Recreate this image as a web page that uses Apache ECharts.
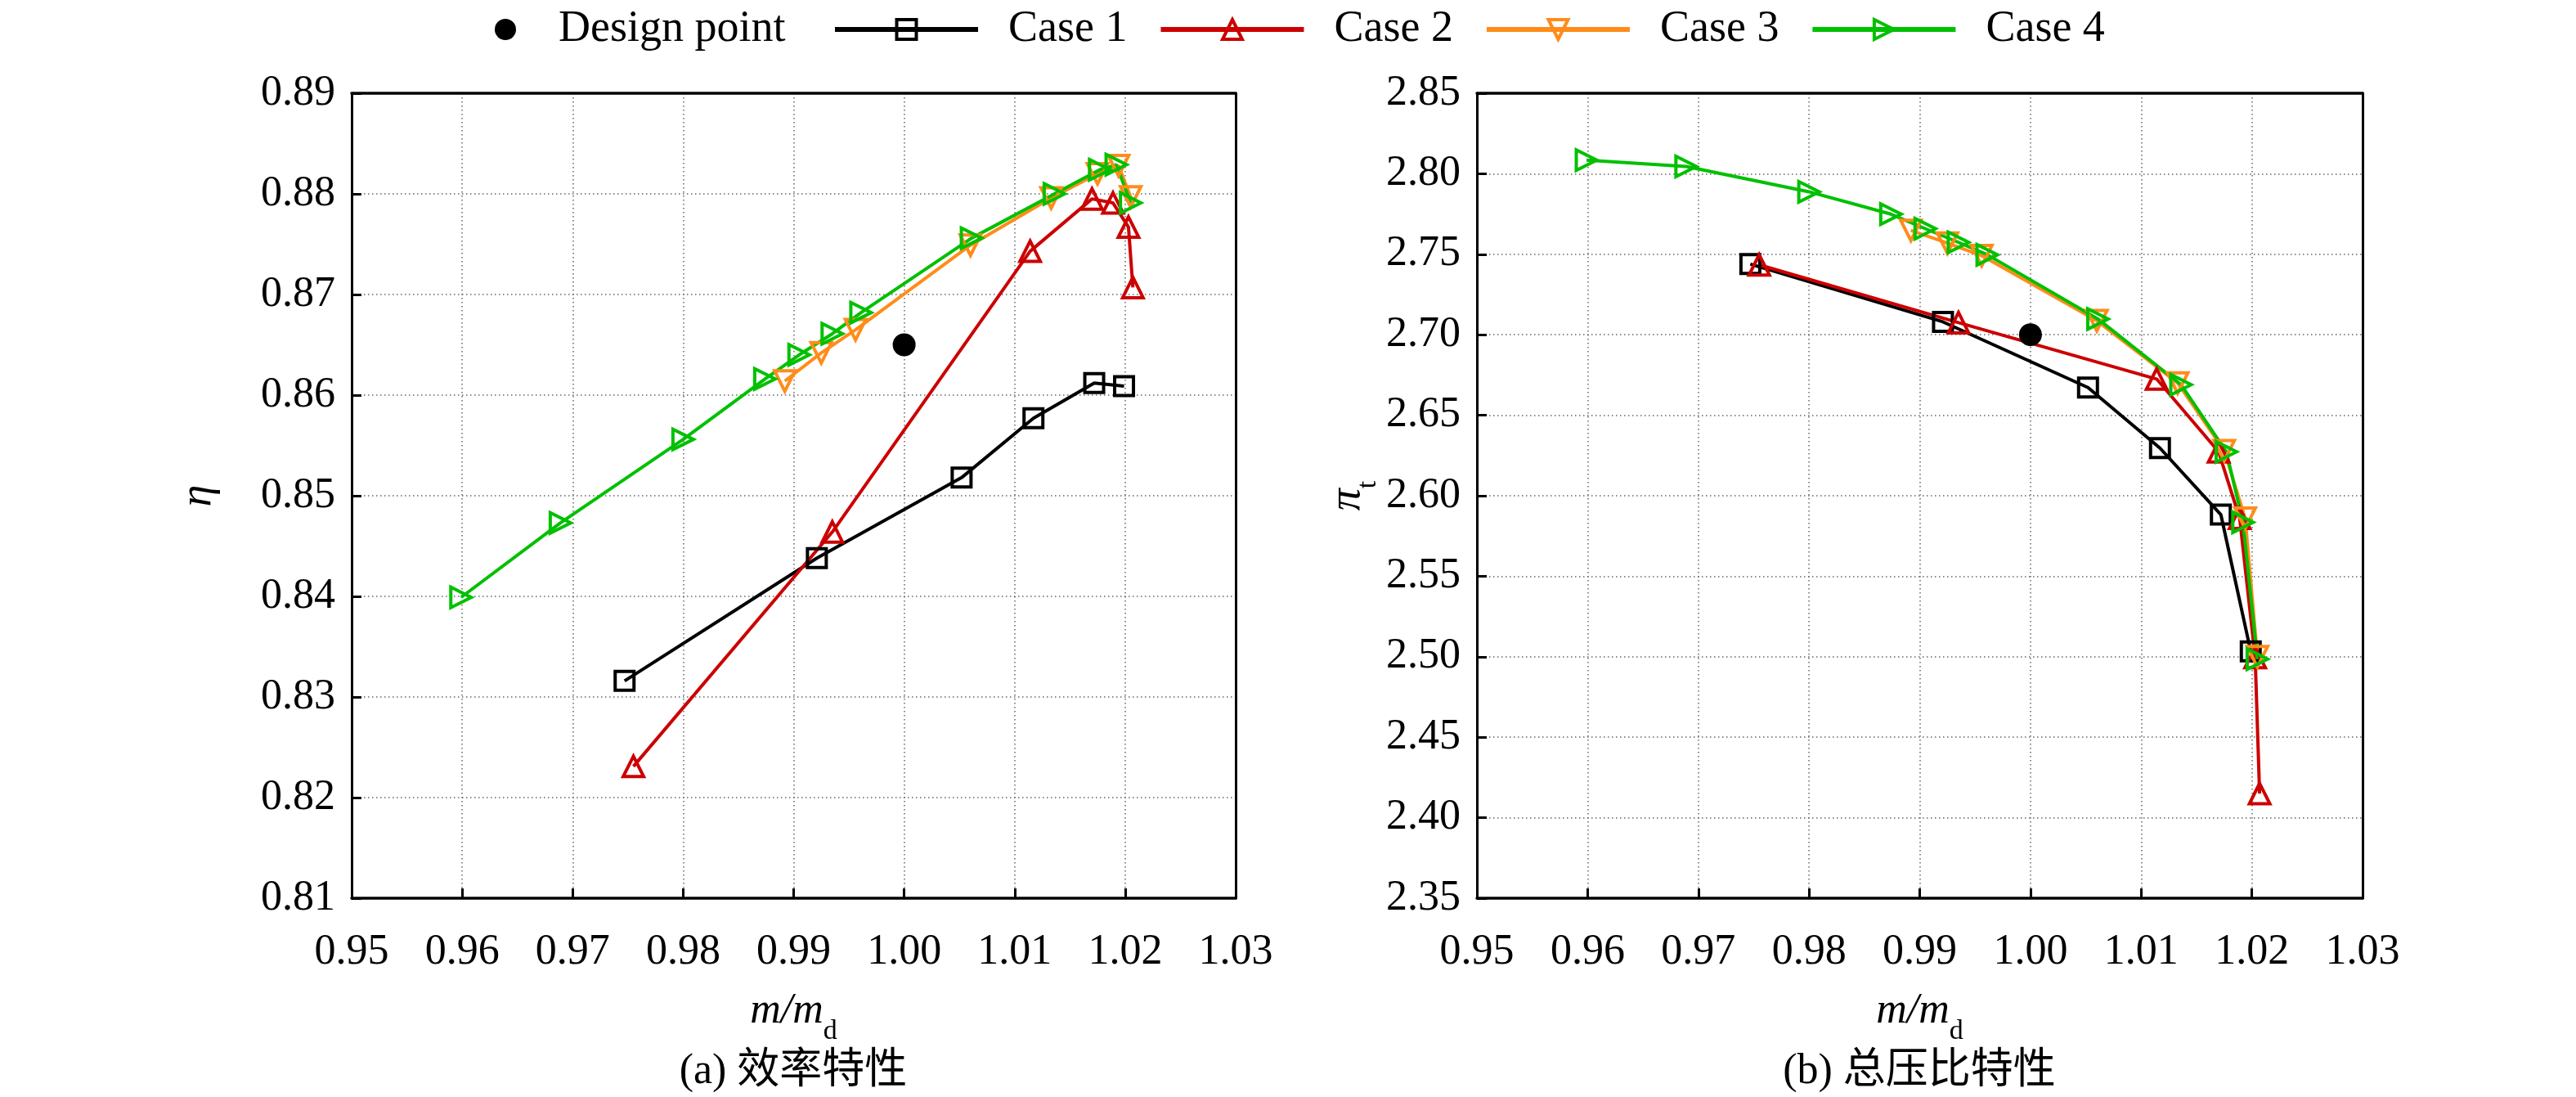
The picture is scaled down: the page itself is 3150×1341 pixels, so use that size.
<!DOCTYPE html>
<html>
<head>
<meta charset="utf-8">
<script src="https://cdn.jsdelivr.net/npm/echarts@6/dist/echarts.min.js"></script>
<style>
html, body { margin: 0; padding: 0; background: #fff; }
#main { width: 3150px; height: 1341px; }
</style>
</head>
<body>
<div id="main"></div>
<script>
// data
var xTicks = [0.95, 1.03, 0.01];
var etaTicks = [0.81, 0.89, 0.01];
var piTicks = [2.35, 2.85, 0.05];

var designX = [1.000];
var designEta = [0.865];
var designPi = [2.700];

var case1X = [0.9747, 0.9921, 1.0052, 1.0117, 1.0172, 1.0199];
var case1Eta = [0.8316, 0.8438, 0.8518, 0.8577, 0.8612, 0.8609];
var case1Pi = [2.7439, 2.7080, 2.6672, 2.6296, 2.5883, 2.5033];

var case2X = [0.9755, 0.9935, 1.0114, 1.0170, 1.0189, 1.0203, 1.0207];
var case2Eta = [0.8231, 0.8464, 0.8743, 0.8795, 0.8791, 0.8767, 0.8707];
var case2Pi = [2.7434, 2.7075, 2.6725, 2.6273, 2.5860, 2.4995, 2.4150];

var case3X = [0.9892, 0.9925, 0.9956, 1.0060, 1.0133, 1.0175, 1.0194, 1.0205];
var case3Eta = [0.8614, 0.8642, 0.8665, 0.8749, 0.8796, 0.8820, 0.8828, 0.8797];
var case3Pi = [2.7648, 2.7569, 2.7491, 2.7087, 2.6700, 2.6280, 2.5860, 2.5000];

var case4X = [0.9599, 0.9689, 0.9800, 0.9874, 0.9905, 0.9935, 0.9961, 1.0061, 1.0136, 1.0177, 1.0192, 1.0205];
var case4Eta = [0.8399, 0.8473, 0.8556, 0.8616, 0.8640, 0.8661, 0.8682, 0.8756, 0.8800, 0.8824, 0.8829, 0.8791];
var case4Pi = [2.8085, 2.8045, 2.7888, 2.7749, 2.7659, 2.7574, 2.7497, 2.7098, 2.6690, 2.6273, 2.5835, 2.4985];

var serif = '"Liberation Serif", "Times New Roman", serif';
var cjk = '"Liberation Serif", "Noto Sans CJK SC", serif';

var chart = echarts.init(document.getElementById('main'));

function pairs(xs, ys) {
    return xs.map(function (x, i) { return [x, ys[i]]; });
}

function caseLine(name, xs, ys, color, symbol, rot, gi) {
    return {
        type: 'line',
        name: name,
        xAxisIndex: gi * 2,
        yAxisIndex: gi * 2,
        data: pairs(xs, ys),
        symbol: symbol,
        symbolSize: symbol == 'rect' ? 23 : 25,
        symbolRotate: rot,
        showAllSymbol: true,
        lineStyle: { color: color, width: 4 },
        itemStyle: { color: 'rgba(0,0,0,0)', borderColor: color, borderWidth: 4 },
        emphasis: { disabled: true },
        z: 3
    };
}

function designDot(xs, ys, gi) {
    return {
        type: 'scatter',
        name: 'Design point',
        xAxisIndex: gi * 2,
        yAxisIndex: gi * 2,
        data: pairs(xs, ys),
        symbol: 'circle',
        symbolSize: 28,
        itemStyle: { color: '#000', opacity: 1 },
        emphasis: { disabled: true },
        z: 4
    };
}

var gridLine = { show: true, lineStyle: { color: '#666', width: 1.5, type: [1.5, 3.5] } };

function bottomAxis(gi) {
    return {
        type: 'value', gridIndex: gi, position: 'bottom',
        min: xTicks[0], max: xTicks[1], interval: xTicks[2],
        axisLine: { show: true, onZero: false, lineStyle: { color: '#000', width: 3.5 } },
        axisTick: { show: true, inside: true, length: 12, lineStyle: { color: '#000', width: 3 } },
        axisLabel: { margin: 40, fontSize: 52, fontFamily: serif, color: '#000',
            formatter: function (v) { return v.toFixed(2); } },
        splitLine: gridLine,
        name: '{i|m/m}{s|d}',
        nameLocation: 'middle',
        nameGap: 108,
        nameTextStyle: {
            rich: {
                i: { fontSize: 52, fontFamily: serif, fontStyle: 'italic', color: '#000', lineHeight: 60 },
                s: { fontSize: 34, fontFamily: serif, color: '#000', verticalAlign: 'bottom', lineHeight: 60, padding: [0, 0, -12, 0] }
            }
        }
    };
}

function topAxis(gi) {
    return {
        type: 'value', gridIndex: gi, position: 'top',
        min: xTicks[0], max: xTicks[1], interval: xTicks[2],
        axisLine: { show: true, onZero: false, lineStyle: { color: '#000', width: 3.5 } },
        axisTick: { show: false }, axisLabel: { show: false }, splitLine: { show: false }
    };
}

function leftAxis(gi, ticks, name, rich, gap) {
    return {
        type: 'value', gridIndex: gi, position: 'left',
        min: ticks[0], max: ticks[1], interval: ticks[2],
        axisLine: { show: true, onZero: false, lineStyle: { color: '#000', width: 3 } },
        axisTick: { show: true, inside: true, length: 12, lineStyle: { color: '#000', width: 3 } },
        axisLabel: { margin: 20, fontSize: 52, fontFamily: serif, color: '#000',
            formatter: function (v) { return v.toFixed(2); } },
        splitLine: gridLine,
        name: name,
        nameLocation: 'middle',
        nameRotate: 90,
        nameGap: gap,
        nameTextStyle: { rich: rich }
    };
}

function rightAxis(gi, ticks) {
    return {
        type: 'value', gridIndex: gi, position: 'right',
        min: ticks[0], max: ticks[1], interval: ticks[2],
        axisLine: { show: true, onZero: false, lineStyle: { color: '#000', width: 3 } },
        axisTick: { show: false }, axisLabel: { show: false }, splitLine: { show: false }
    };
}

var etaRich = {
    i: { fontSize: 54, fontFamily: serif, fontStyle: 'italic', color: '#000' }
};
var piRich = {
    i: { fontSize: 54, fontFamily: serif, fontStyle: 'italic', color: '#000', lineHeight: 60 },
    s: { fontSize: 34, fontFamily: serif, color: '#000', verticalAlign: 'bottom', lineHeight: 60, padding: [0, 0, -12, 0] }
};

var legendText = { fontSize: 54, fontFamily: serif, color: '#000', padding: [0, 0, 0, 32] };

var option = {
    animation: false,
    backgroundColor: '#fff',
    legend: [
        {
            data: ['Design point'],
            left: 600, top: 4,
            itemWidth: 56, itemHeight: 26,
            textStyle: legendText,
            selectedMode: false
        },
        {
            data: ['Case 1', 'Case 2', 'Case 3', 'Case 4'],
            left: 1013, top: 4,
            itemWidth: 175, itemHeight: 30, itemGap: 38,
            textStyle: legendText,
            lineStyle: { width: 6 },
            itemStyle: { borderWidth: 4 },
            selectedMode: false
        }
    ],
    grid: [
        { left: 430, top: 114, width: 1081, height: 984 },
        { left: 1806, top: 114, width: 1083, height: 984 }
    ],
    xAxis: [bottomAxis(0), topAxis(0), bottomAxis(1), topAxis(1)],
    yAxis: [
        leftAxis(0, etaTicks, '{i|η}', etaRich, 160), rightAxis(0, etaTicks),
        leftAxis(1, piTicks, '{i|π}{s|t}', piRich, 128), rightAxis(1, piTicks)
    ],
    graphic: [
        { type: 'text', x: 970, y: 1310, style: { text: '(a) 效率特性', font: '52px ' + cjk, fill: '#000', align: 'center', verticalAlign: 'middle' } },
        { type: 'text', x: 2347, y: 1310, style: { text: '(b) 总压比特性', font: '52px ' + cjk, fill: '#000', align: 'center', verticalAlign: 'middle' } }
    ],
    series: [
        designDot(designX, designEta, 0),
        caseLine('Case 1', case1X, case1Eta, '#000000', 'rect', 0, 0),
        caseLine('Case 2', case2X, case2Eta, '#cc0000', 'triangle', 0, 0),
        caseLine('Case 3', case3X, case3Eta, '#ff8c1a', 'triangle', 180, 0),
        caseLine('Case 4', case4X, case4Eta, '#00c000', 'triangle', -90, 0),
        designDot(designX, designPi, 1),
        caseLine('Case 1', case1X, case1Pi, '#000000', 'rect', 0, 1),
        caseLine('Case 2', case2X, case2Pi, '#cc0000', 'triangle', 0, 1),
        caseLine('Case 3', case3X, case3Pi, '#ff8c1a', 'triangle', 180, 1),
        caseLine('Case 4', case4X, case4Pi, '#00c000', 'triangle', -90, 1)
    ]
};

chart.setOption(option);
</script>
</body>
</html>
